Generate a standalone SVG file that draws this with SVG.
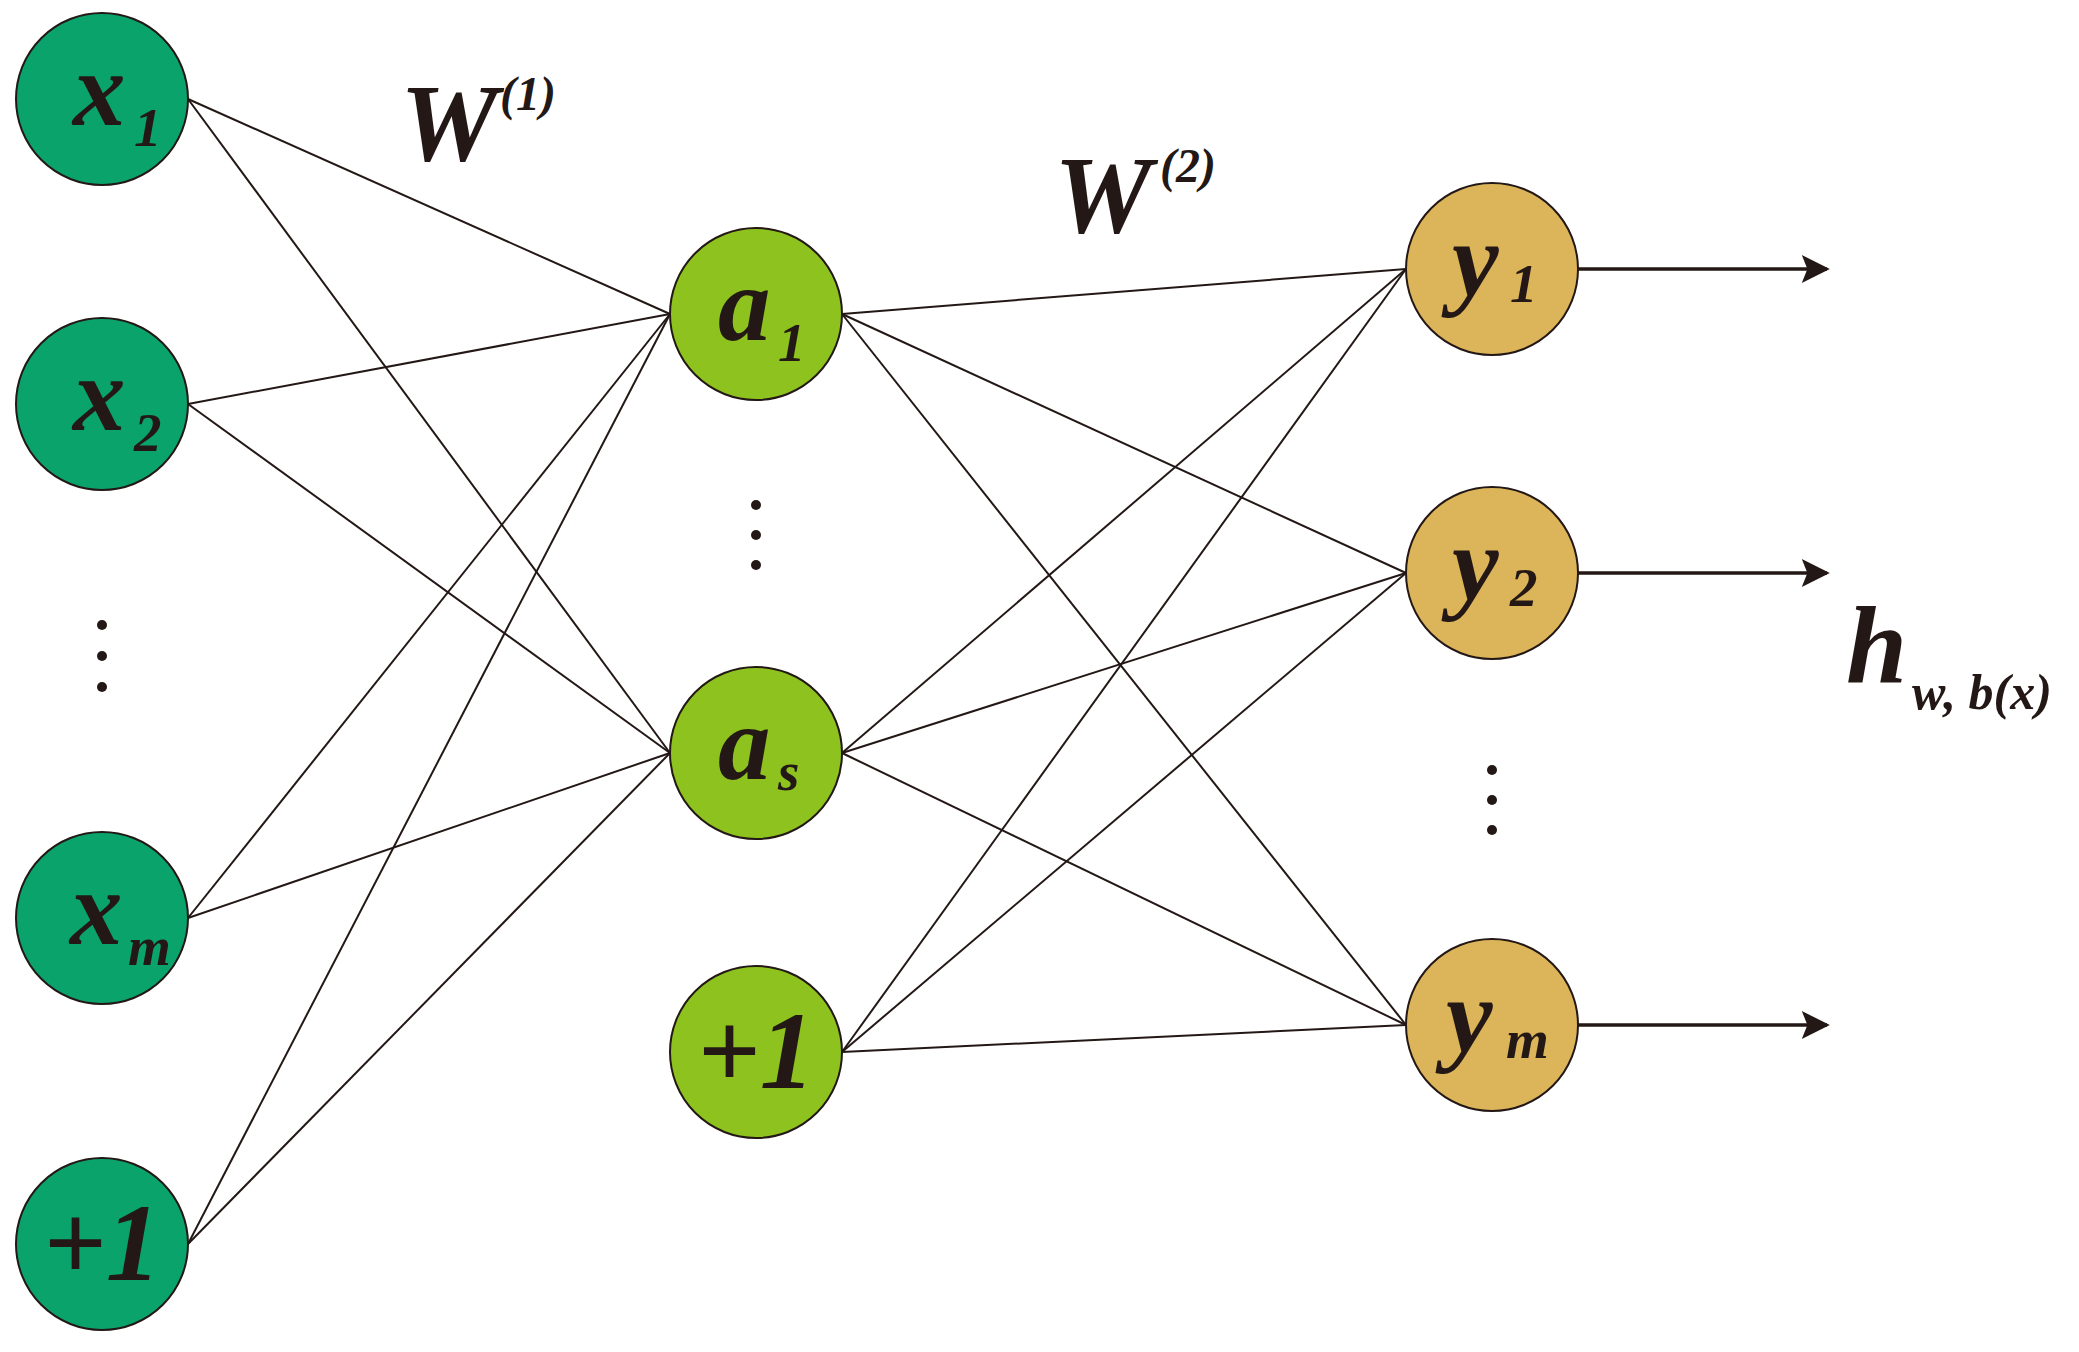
<svg xmlns="http://www.w3.org/2000/svg" width="2079" height="1352" viewBox="0 0 2079 1352">
<style>
.n{stroke:#231815;stroke-width:2}
.x{fill:#0aa36c}.a{fill:#8dc21f}.y{fill:#dcb45a}
.t{font-family:'Liberation Serif','Times New Roman',Times,serif;font-weight:700;font-style:italic;fill:#231815}
.c line{stroke:#231815;stroke-width:2}
.o line{stroke:#231815;stroke-width:3.5;marker-end:url(#ar)}
.d{fill:#231815}
</style>
<defs><marker id="ar" viewBox="0 0 10 10" refX="9" refY="5" markerWidth="9" markerHeight="8" orient="auto" markerUnits="strokeWidth"><path d="M0,0L10,5L0,10L2,5z" fill="#231815"/></marker></defs>
<rect width="2079" height="1352" fill="#fff"/>
<g class="c" id="connectors">
<line x1="188" y1="99" x2="670" y2="314"/><line x1="188" y1="99" x2="670" y2="753"/>
<line x1="188" y1="404" x2="670" y2="314"/><line x1="188" y1="404" x2="670" y2="753"/>
<line x1="188" y1="918" x2="670" y2="314"/><line x1="188" y1="918" x2="670" y2="753"/>
<line x1="188" y1="1244" x2="670" y2="314"/><line x1="188" y1="1244" x2="670" y2="753"/>
<line x1="842" y1="314" x2="1406" y2="269"/><line x1="842" y1="314" x2="1406" y2="573"/><line x1="842" y1="314" x2="1406" y2="1025"/>
<line x1="842" y1="753" x2="1406" y2="269"/><line x1="842" y1="753" x2="1406" y2="573"/><line x1="842" y1="753" x2="1406" y2="1025"/>
<line x1="842" y1="1052" x2="1406" y2="269"/><line x1="842" y1="1052" x2="1406" y2="573"/><line x1="842" y1="1052" x2="1406" y2="1025"/>
</g>
<g class="o" id="outputs">
<line x1="1578" y1="269" x2="1827" y2="269"/><line x1="1578" y1="573" x2="1827" y2="573"/><line x1="1578" y1="1025" x2="1827" y2="1025"/>
</g>
<g id="x1"><circle class="n x" cx="102" cy="99" r="86"/><text class="t" x="73" y="125" font-size="105">x</text><text class="t" x="134" y="146" font-size="55">1</text></g>
<g id="x2"><circle class="n x" cx="102" cy="404" r="86"/><text class="t" x="73" y="430" font-size="105">x</text><text class="t" x="134" y="451" font-size="55">2</text></g>
<g id="xm"><circle class="n x" cx="102" cy="918" r="86"/><text class="t" x="70" y="944" font-size="105">x</text><text class="t" x="128" y="965" font-size="55">m</text></g>
<g id="xb"><circle class="n x" cx="102" cy="1244" r="86"/><text class="t" x="102" y="1280" font-size="110" text-anchor="middle">+1</text></g>
<g id="dx" class="d"><circle cx="102" cy="625" r="5"/><circle cx="102" cy="656" r="5"/><circle cx="102" cy="687" r="5"/></g>
<g id="a1"><circle class="n a" cx="756" cy="314" r="86"/><text class="t" x="718" y="340" font-size="105">a</text><text class="t" x="778" y="361" font-size="55">1</text></g>
<g id="as"><circle class="n a" cx="756" cy="753" r="86"/><text class="t" x="718" y="779" font-size="105">a</text><text class="t" x="778" y="790" font-size="55">s</text></g>
<g id="ab"><circle class="n a" cx="756" cy="1052" r="86"/><text class="t" x="756" y="1088" font-size="110" text-anchor="middle">+1</text></g>
<g id="da" class="d"><circle cx="756" cy="505" r="5"/><circle cx="756" cy="535" r="5"/><circle cx="756" cy="565" r="5"/></g>
<g id="y1"><circle class="n y" cx="1492" cy="269" r="86"/><text class="t" x="1452" y="295" font-size="105">y</text><text class="t" x="1510" y="302" font-size="55">1</text></g>
<g id="y2"><circle class="n y" cx="1492" cy="573" r="86"/><text class="t" x="1452" y="599" font-size="105">y</text><text class="t" x="1510" y="606" font-size="55">2</text></g>
<g id="ym"><circle class="n y" cx="1492" cy="1025" r="86"/><text class="t" x="1446" y="1051" font-size="105">y</text><text class="t" x="1506" y="1058" font-size="55">m</text></g>
<g id="dy" class="d"><circle cx="1492" cy="770" r="5"/><circle cx="1492" cy="800" r="5"/><circle cx="1492" cy="830" r="5"/></g>
<g id="W1"><text class="t" x="400" y="160" font-size="110">W</text><text class="t" x="500" y="110" font-size="48">(1)</text></g>
<g id="W2"><text class="t" x="1054" y="232" font-size="110">W</text><text class="t" x="1160" y="182" font-size="48">(2)</text></g>
<g id="h"><text class="t" x="1846" y="683" font-size="110">h</text><text class="t" x="1912" y="709" font-size="50">w, b(x)</text></g>
</svg>
